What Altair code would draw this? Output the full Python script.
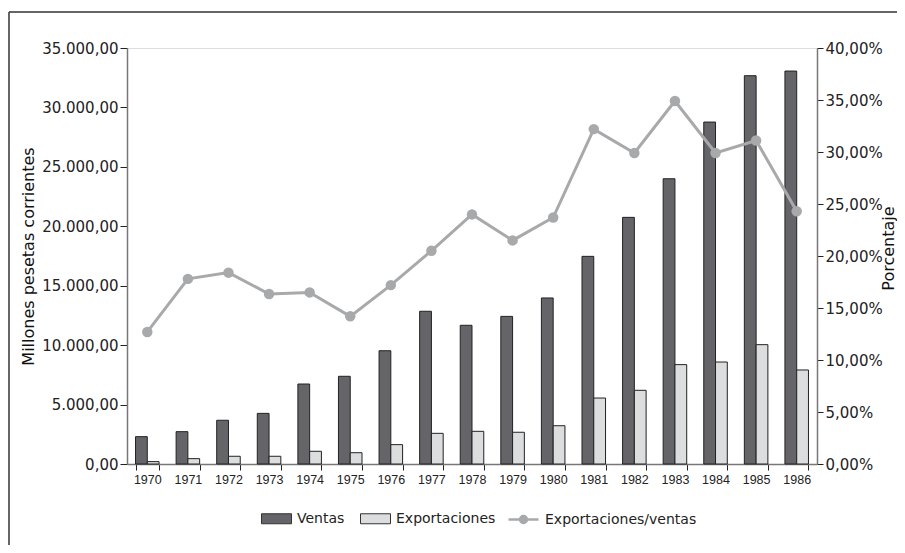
import altair as alt
import pandas as pd

years = [str(y) for y in range(1970, 1987)]
ventas = [2300, 2720, 3680, 4260, 6730, 7380, 9530, 12850, 11670, 12420,
          13970, 17470, 20750, 24000, 28770, 32670, 33060]
exportaciones = [200, 450, 650, 650, 1070, 950, 1630, 2580, 2750, 2670,
                 3220, 5550, 6200, 8360, 8580, 10040, 7910]
ratio = [12.7, 17.8, 18.4, 16.35, 16.5, 14.2, 17.2, 20.5, 24.0, 21.5,
         23.7, 32.2, 29.9, 34.9, 29.9, 31.1, 24.3]

series = ["Ventas", "Exportaciones"]
line_name = "Exportaciones/ventas"

bars_df = pd.DataFrame(
    [{"year": y, "serie": "Ventas", "valor": v} for y, v in zip(years, ventas)]
    + [{"year": y, "serie": "Exportaciones", "valor": v} for y, v in zip(years, exportaciones)]
)
line_df = pd.DataFrame({"year": years, "ratio": [r / 100 for r in ratio], "serie": line_name})

DARK = "#656569"
LIGHT = "#dcdddf"
LINE = "#a8a9ab"
FONT = "DejaVu Sans"

x_scale = alt.Scale(domain=years, paddingInner=0.42, paddingOuter=0.21)
x_axis = alt.Axis(title=None, tickBand="extent", labelAngle=0, labelFont="Liberation Sans",
                  labelFontSize=12.5, labelColor="#222", tickColor="#222", tickSize=6,
                  domainColor="#777", domainWidth=1.5, labelPadding=3)

y_right_scale = alt.Scale(domain=[0, 0.40], nice=False)
y_right_axis = alt.Axis(title="Porcentaje", orient="right",
                        values=[i * 0.05 for i in range(9)],
                        labelExpr="replace(format(datum.value, '.2%'), '.', ',')",
                        grid=False, tickSize=6, tickColor="#222", domainColor="#777",
                        domainWidth=1.5, labelFont=FONT, labelFontSize=15, labelColor="#222",
                        labelPadding=2, titleFont=FONT, titleFontSize=16, titleFontWeight="normal",
                        titleColor="#111", titleAngle=270, titleX=79, titleY=200,
                        titleBaseline="bottom", titleAlign="center")

bars = alt.Chart(bars_df).mark_bar(stroke="#222", strokeWidth=1).encode(
    x=alt.X("year:N", scale=x_scale, axis=x_axis),
    xOffset=alt.XOffset("serie:N", scale=alt.Scale(domain=series)),
    y=alt.Y("valor:Q", scale=alt.Scale(domain=[0, 35000], nice=False),
            axis=alt.Axis(title="Millones pesetas corrientes", values=list(range(0, 35001, 5000)),
                          labelExpr="replace(replace(replace(format(datum.value, ',.2f'), '.', '#'), ',', '.'), '#', ',')",
                          grid=False, tickSize=7, tickColor="#222", domainColor="#777",
                          domainWidth=1.5, labelFont=FONT, labelFontSize=15, labelColor="#222",
                          labelPadding=2, titleFont=FONT, titleFontSize=16, titleFontWeight="normal",
                          titleColor="#111", titlePadding=5)),
    fill=alt.Fill("serie:N", scale=alt.Scale(domain=series, range=[DARK, LIGHT]),
                  legend=alt.Legend(title=None, orient="none", direction="horizontal",
                                    legendX=139, legendY=460, padding=0,
                                    symbolType="M-1.5,-0.5H1.5V0.5H-1.5Z", symbolSize=400,
                                    symbolStrokeColor="#333", symbolStrokeWidth=1,
                                    labelOffset=10, columnPadding=13, labelFont=FONT,
                                    labelFontSize=14, labelColor="#222")),
)

line = alt.Chart(line_df).mark_line(strokeWidth=3).encode(
    x=alt.X("year:N", scale=x_scale, axis=x_axis),
    y=alt.Y("ratio:Q", scale=y_right_scale, axis=y_right_axis),
    stroke=alt.Stroke("serie:N", scale=alt.Scale(domain=[line_name], range=[LINE]),
                      legend=alt.Legend(title=None, orient="none", legendX=385, legendY=460,
                                        padding=0,
                                        symbolType="M-1.5,0H1.5M0.35,0A0.35,0.35,0,1,1,-0.35,0A0.35,0.35,0,1,1,0.35,0",
                                        symbolSize=400, symbolStrokeWidth=2.5,
                                        symbolFillColor=LINE, labelOffset=10,
                                        labelFont=FONT, labelFontSize=14, labelColor="#222")),
)

points = alt.Chart(line_df).mark_circle(size=110, opacity=1, color=LINE).encode(
    x=alt.X("year:N", scale=x_scale, axis=x_axis),
    y=alt.Y("ratio:Q", scale=y_right_scale, axis=y_right_axis),
)

frame_left = alt.Chart().mark_rule(color="#333", strokeWidth=1.5).encode(
    x=alt.value(-118), y=alt.value(-36), y2=alt.value(520))
frame_top = alt.Chart().mark_rule(color="#333", strokeWidth=1.5).encode(
    x=alt.value(-118), x2=alt.value(800), y=alt.value(-36))

right_layer = alt.layer(line, points)

chart = alt.layer(bars, right_layer, frame_left, frame_top).resolve_scale(
    y="independent", fill="independent", stroke="independent"
).properties(
    width=690, height=416,
    autosize=alt.AutoSizeParams(type="none"),
    padding={"left": 119, "top": 40, "right": 80, "bottom": 81},
).configure_view(stroke="#888", strokeWidth=1).configure(background="white")

chart.save("out.html", embed_options={"renderer": "svg", "actions": False})
